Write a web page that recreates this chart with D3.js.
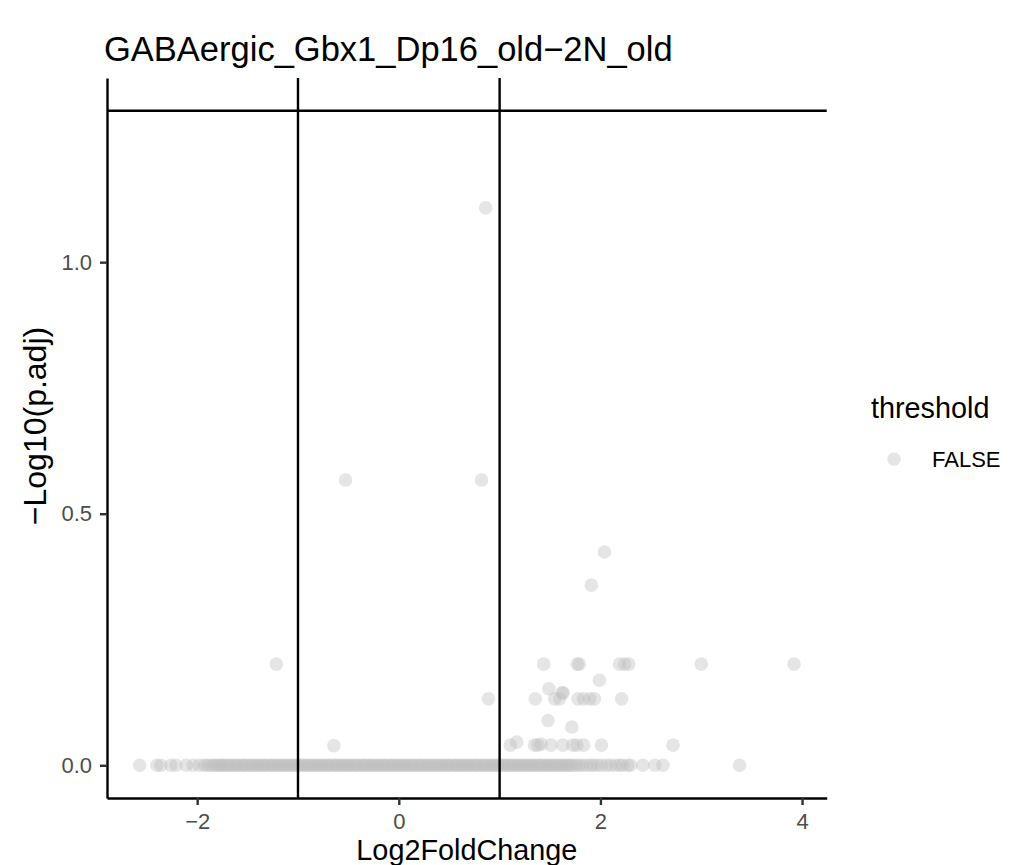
<!DOCTYPE html>
<html>
<head>
<meta charset="utf-8">
<script src="https://cdn.jsdelivr.net/npm/d3@7"></script>
<style>
body { margin: 0; background: #fff; }
text { font-family: "Liberation Sans", Arial, sans-serif; }
</style>
</head>
<body>
<div class="graphic"></div>
<script>
// genes with -log10(p.adj) == 0 (the dense band)
var zeroFC = [-2.57, -2.40, -2.36, -2.26, -2.21, -2.11, -2.04, -1.98, -1.93, -1.90, -1.87, -1.84, -1.82, -1.79, -1.77,
	-1.75, -1.73, -1.70, -1.68, -1.66, -1.63, -1.61, -1.59, -1.56, -1.54, -1.52, -1.49, -1.47, -1.45, -1.42, -1.40,
	-1.38, -1.35, -1.33, -1.31, -1.28, -1.26, -1.24, -1.21, -1.19, -1.17, -1.14, -1.12, -1.10, -1.07, -1.05, -1.03,
	-1.00, -0.98, -0.96, -0.93, -0.91, -0.89, -0.86, -0.84, -0.82, -0.79, -0.77, -0.75, -0.72, -0.70, -0.68, -0.65,
	-0.63, -0.61, -0.58, -0.56, -0.54, -0.51, -0.49, -0.47, -0.44, -0.42, -0.40, -0.37, -0.35, -0.33, -0.30, -0.28,
	-0.26, -0.23, -0.21, -0.19, -0.16, -0.14, -0.12, -0.09, -0.07, -0.05, -0.02, 0.00, 0.02, 0.05, 0.07, 0.09,
	0.12, 0.14, 0.16, 0.19, 0.21, 0.23, 0.26, 0.28, 0.30, 0.33, 0.35, 0.37, 0.40, 0.42, 0.44, 0.47, 0.49, 0.51,
	0.54, 0.56, 0.58, 0.61, 0.63, 0.65, 0.68, 0.70, 0.72, 0.75, 0.77, 0.79, 0.82, 0.84, 0.86, 0.89, 0.91, 0.93,
	0.96, 0.98, 1.00, 1.03, 1.05, 1.07, 1.10, 1.12, 1.14, 1.17, 1.19, 1.21, 1.24, 1.26, 1.28, 1.31, 1.33, 1.35,
	1.38, 1.40, 1.42, 1.45, 1.47, 1.49, 1.52, 1.54, 1.56, 1.59, 1.61, 1.63, 1.66, 1.68, 1.70,
	1.73, 1.76, 1.79, 1.82, 1.86, 1.90, 1.93, 1.97, 2.01, 2.06, 2.10, 2.15, 2.19, 2.22, 2.27, 2.30, 2.42, 2.54, 2.62, 3.38];

// the remaining genes
var otherFC = [0.861, -0.528, 0.821, 2.04, 1.91,
	-1.215, 1.437, 1.77, 1.79, 2.19, 2.24, 2.28, 3.0, 3.92,
	1.99, 1.49, 1.63, 1.62,
	0.889, 1.354, 1.546, 1.595, 1.777, 1.833, 1.893, 1.94, 2.21,
	1.48, 1.717,
	-0.644, 1.106, 1.17, 1.347, 1.38, 1.413, 1.51, 1.628, 1.727, 1.767, 1.833, 2.01, 2.72];
var otherP = [1.108, 0.567, 0.567, 0.424, 0.358,
	0.201, 0.201, 0.201, 0.201, 0.201, 0.201, 0.201, 0.201, 0.201,
	0.169, 0.152, 0.144, 0.144,
	0.132, 0.132, 0.132, 0.132, 0.132, 0.132, 0.132, 0.132, 0.132,
	0.089, 0.076,
	0.039, 0.040, 0.046, 0.040, 0.040, 0.042, 0.040, 0.040, 0.040, 0.040, 0.040, 0.040, 0.040];

var fcCut = [-1, 1];
var pCut = -Math.log10(0.05);
var xTicks = [-2, 0, 2, 4];
var yTicks = [0, 0.5, 1.0];
var legendLabels = ["FALSE"];

var width = 1014;
var height = 865;
var margin = {top: 78, left: 107, right: 1014 - 826.7, bottom: 865 - 798};

var data = zeroFC.map(function(fc){ return {fc: fc, p: 0}; })
	.concat(otherFC.map(function(fc, i){ return {fc: fc, p: otherP[i]}; }));

var svg = d3.select("div.graphic").append("svg")
	.attr("width", width)
	.attr("height", height);

// ggplot style 5% expansion
function expand(ext){
	var pad = (ext[1] - ext[0]) * 0.05;
	return [ext[0] - pad, ext[1] + pad];
}
var xExt = d3.extent(data, function(d){ return d.fc; });
var yExt = [0, Math.max(pCut, d3.max(data, function(d){ return d.p; }))];

var x = d3.scaleLinear().domain(expand(xExt)).range([margin.left, width - margin.right]);
var y = d3.scaleLinear().domain(expand(yExt)).range([height - margin.bottom, margin.top]);

var pts = svg.append("g");
pts.selectAll("circle")
	.data(data)
	.enter()
	.append("circle")
	.attr("cx", function(d){ return x(d.fc); })
	.attr("cy", function(d){ return y(d.p); })
	.attr("r", 6.8)
	.attr("fill", "#bebebe")
	.attr("fill-opacity", 0.4);

// threshold lines
var lines = svg.append("g");
lines.selectAll("line.v")
	.data(fcCut)
	.enter()
	.append("line")
	.attr("class", "v")
	.attr("x1", function(d){ return x(d); })
	.attr("x2", function(d){ return x(d); })
	.attr("y1", y.range()[0])
	.attr("y2", y.range()[1])
	.attr("stroke", "#000")
	.attr("stroke-width", 2.4);
lines.append("line")
	.attr("x1", x.range()[0])
	.attr("x2", x.range()[1])
	.attr("y1", y(pCut))
	.attr("y2", y(pCut))
	.attr("stroke", "#000")
	.attr("stroke-width", 2.4);

var xAxis = svg.append("g")
	.attr("transform", "translate(0," + y.range()[0] + ")")
	.call(d3.axisBottom(x).tickValues(xTicks).tickFormat(d3.format("d")).tickSize(7).tickSizeOuter(0).tickPadding(8));
var yAxis = svg.append("g")
	.attr("transform", "translate(" + x.range()[0] + ",0)")
	.call(d3.axisLeft(y).tickValues(yTicks).tickFormat(d3.format(".1f")).tickSize(7).tickSizeOuter(0).tickPadding(8));

[xAxis, yAxis].forEach(function(ax){
	ax.select(".domain").attr("stroke", "#000").attr("stroke-width", 2.4);
	ax.selectAll(".tick line").attr("stroke", "#333").attr("stroke-width", 2.4);
	ax.selectAll(".tick text").attr("fill", "#4d4d4d").style("font-size", "22px")
		.style("font-family", "'Liberation Sans', Arial, sans-serif");
});

svg.append("text")
	.attr("x", 104)
	.attr("y", 61)
	.style("font-size", "34.5px")
	.text("GABAergic_Gbx1_Dp16_old\u22122N_old");

svg.append("text")
	.attr("x", (x.range()[0] + x.range()[1]) / 2)
	.attr("y", 860)
	.attr("text-anchor", "middle")
	.style("font-size", "28.8px")
	.text("Log2FoldChange");

svg.append("text")
	.attr("transform", "translate(46,426) rotate(-90)")
	.attr("text-anchor", "middle")
	.style("font-size", "32px")
	.text("\u2212Log10(p.adj)");

// legend
var legend = svg.append("g");
legend.append("text")
	.attr("x", 871)
	.attr("y", 418)
	.style("font-size", "28.8px")
	.text("threshold");
var item = legend.selectAll("g.item")
	.data(legendLabels)
	.enter()
	.append("g")
	.attr("class", "item")
	.attr("transform", function(d, i){ return "translate(0," + (459.3 + i * 35) + ")"; });
item.append("circle")
	.attr("cx", 894)
	.attr("cy", 0)
	.attr("r", 6.8)
	.attr("fill", "#bebebe")
	.attr("fill-opacity", 0.4);
item.append("text")
	.attr("x", 932)
	.attr("y", 8)
	.style("font-size", "22px")
	.text(function(d){ return d; });
</script>
</body>
</html>
